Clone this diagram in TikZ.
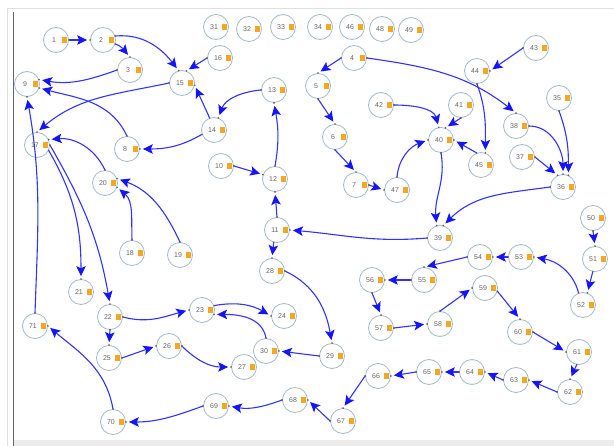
\documentclass[tikz,border=0pt]{standalone}
\usepackage{fontspec}
\setmainfont{Liberation Sans}
\usetikzlibrary{arrows.meta}
\definecolor{edgeblue}{RGB}{50,50,255}
\definecolor{tipblue}{RGB}{20,20,255}
\definecolor{ringc}{RGB}{160,185,205}
\definecolor{sqc}{RGB}{245,166,35}
\definecolor{txtc}{RGB}{100,100,100}
\definecolor{portc}{RGB}{90,90,90}
\tikzset{
  gnode/.style={circle,draw=ringc,line width=0.8pt,fill=white,minimum size=25pt,inner sep=0pt},
  gtext/.style={inner sep=0pt,font=\fontsize{7}{7}\selectfont,text=txtc},
  gsq/.style={fill=sqc},
  edge/.style={draw=edgeblue,line width=1.1pt,shorten >=3pt,
    -{Stealth[length=10pt,width=9.5pt,inset=2.2pt,color=tipblue]}},
  port/.style={fill=portc}
}
\newcommand\gn[3]{%
  \node[gnode] (n#1) at (#2,#3) {};
  \node[gtext] (t#1) at (#2-2,#3) {#1};
  \fill[gsq] (#2+5.5,#3-2.6) rectangle ++(5.2,5.2);
}
\newcommand\ed[3][]{%
  \draw[edge] (#2) to[#1] (#3);
  \fill[port] (#2) circle (0.9pt);
  \fill[port] (#3) circle (0.9pt);
}
\begin{document}
\begin{tikzpicture}[x=1pt,y=-1pt]
\useasboundingbox (0,0) rectangle (614,446);
\fill[white] (0,0) rectangle (614,446);
% frame
\draw[gray!25,line width=0.8pt] (7,446) -- (7,8) -- (614,8);
\fill[gray!15] (13,440) rectangle (614,446);
\draw[gray!80!black,line width=1pt] (13,12) -- (13,446);
% nodes
\gn{1}{56}{40}
\gn{2}{103}{40}
\gn{3}{130}{70}
\gn{9}{27}{84}
\gn{15}{182}{83}
\gn{16}{220}{58}
\gn{17}{37}{145}
\gn{8}{127}{149}
\gn{14}{214}{130}
\gn{13}{274}{90}
\gn{12}{275}{179}
\gn{10}{221}{166}
\gn{11}{277}{230}
\gn{28}{272}{271}
\gn{31}{216}{27}
\gn{32}{249}{29}
\gn{33}{283}{27}
\gn{34}{320}{27}
\gn{46}{352}{27}
\gn{48}{382}{29}
\gn{49}{411}{30}
\gn{4}{354}{58}
\gn{5}{318}{86}
\gn{6}{335}{137}
\gn{7}{356}{185}
\gn{47}{397}{190}
\gn{42}{381}{105}
\gn{41}{461}{105}
\gn{40}{441}{140}
\gn{43}{536}{48}
\gn{44}{477}{71}
\gn{45}{481}{165}
\gn{35}{559}{98}
\gn{38}{516}{126}
\gn{37}{522}{157}
\gn{36}{563}{187}
\gn{39}{440}{238}
\gn{50}{593}{218}
\gn{51}{595}{259}
\gn{52}{583}{305}
\gn{53}{521}{257}
\gn{54}{480}{257}
\gn{55}{424}{280}
\gn{56}{372}{280}
\gn{57}{381}{328}
\gn{58}{440}{324}
\gn{59}{485}{288}
\gn{60}{520}{332}
\gn{61}{579}{352}
\gn{62}{570}{392}
\gn{63}{516}{380}
\gn{64}{472}{372}
\gn{65}{429}{372}
\gn{66}{378}{376}
\gn{67}{343}{421}
\gn{68}{295}{400}
\gn{69}{216}{406}
\gn{70}{113}{422}
\gn{71}{35}{326}
\gn{22}{110}{317}
\gn{25}{109}{358}
\gn{26}{169}{346}
\gn{23}{202}{310}
\gn{24}{284}{316}
\gn{30}{266}{351}
\gn{29}{332}{356}
\gn{27}{244}{367}
\gn{20}{105}{183}
\gn{18}{132}{253}
\gn{19}{180}{255}
\gn{21}{81}{292}
% edges
\ed{n1.0}{n2.180}
\ed[out=-20,in=130]{n2.-18}{n3.90}
\ed[out=5,in=128]{n2.18}{n15.105}
\ed{n16.180}{n15.70}
\ed{n14.110}{n15.-10}
\ed[out=200,in=-10]{n3.180}{n9.20}
\ed[out=115,in=-15]{n8.90}{n9.-18}
\ed[out=192,in=40]{n15.180}{n17.90}
\ed[out=185,in=70]{n13.180}{n14.70}
\ed[out=210,in=0]{n14.200}{n8.0}
\ed[out=80,in=-80]{n12.90}{n13.-90}
\ed{n10.0}{n12.160}
\ed{n11.90}{n12.-90}
\ed{n11.-105}{n28.90}
\ed[out=185,in=-5]{n39.180}{n11.0}
\ed{n4.180}{n5.90}
\ed[out=-8,in=142]{n4.0}{n38.90}
\ed{n5.-90}{n6.90}
\ed{n6.-90}{n7.90}
\ed{n7.0}{n47.180}
\ed[out=85,in=200]{n47.90}{n40.180}
\ed[out=0,in=105]{n42.0}{n40.100}
\ed{n41.-90}{n40.70}
\ed{n45.110}{n40.0}
\ed[out=-70,in=90]{n44.-90}{n45.70}
\ed{n43.180}{n44.0}
\ed[out=-80,in=95]{n40.-90}{n39.105}
\ed[out=188,in=45]{n36.180}{n39.75}
\ed{n37.0}{n36.115}
\ed[out=0,in=90]{n38.0}{n36.90}
\ed[out=-70,in=90]{n35.-90}{n36.65}
\ed{n50.-90}{n51.90}
\ed{n51.-100}{n52.70}
\ed[out=105,in=-10]{n52.110}{n53.0}
\ed{n53.180}{n54.0}
\ed{n54.180}{n55.90}
\ed{n55.180}{n56.0}
\ed{n56.-90}{n57.90}
\ed{n57.0}{n58.180}
\ed{n58.90}{n59.180}
\ed{n59.-15}{n60.90}
\ed{n60.0}{n61.180}
\ed{n61.-100}{n62.90}
\ed{n62.180}{n63.0}
\ed{n63.180}{n64.0}
\ed{n64.180}{n65.0}
\ed{n65.180}{n66.0}
\ed{n66.180}{n67.90}
\ed{n67.180}{n68.0}
\ed[out=200,in=-10]{n68.180}{n69.0}
\ed[out=200,in=0]{n69.180}{n70.0}
\ed[out=100,in=-40]{n70.90}{n71.0}
\ed[out=88,in=-80]{n71.90}{n9.-90}
\ed[out=115,in=5]{n20.90}{n17.25}
\ed[out=-60,in=100]{n17.0}{n22.90}
\ed[out=-60,in=90]{n17.-25}{n21.90}
\ed[out=92,in=-40]{n18.90}{n20.-20}
\ed[out=115,in=-20]{n19.90}{n20.20}
\ed[out=-15,in=195]{n22.0}{n23.180}
\ed{n22.-90}{n25.90}
\ed{n25.0}{n26.180}
\ed[out=-45,in=180]{n26.0}{n27.180}
\ed[out=10,in=150]{n23.20}{n24.180}
\ed[out=100,in=0]{n30.90}{n23.-20}
\ed{n29.180}{n30.0}
\ed[out=-25,in=100]{n28.0}{n29.90}
\end{tikzpicture}
\end{document}
